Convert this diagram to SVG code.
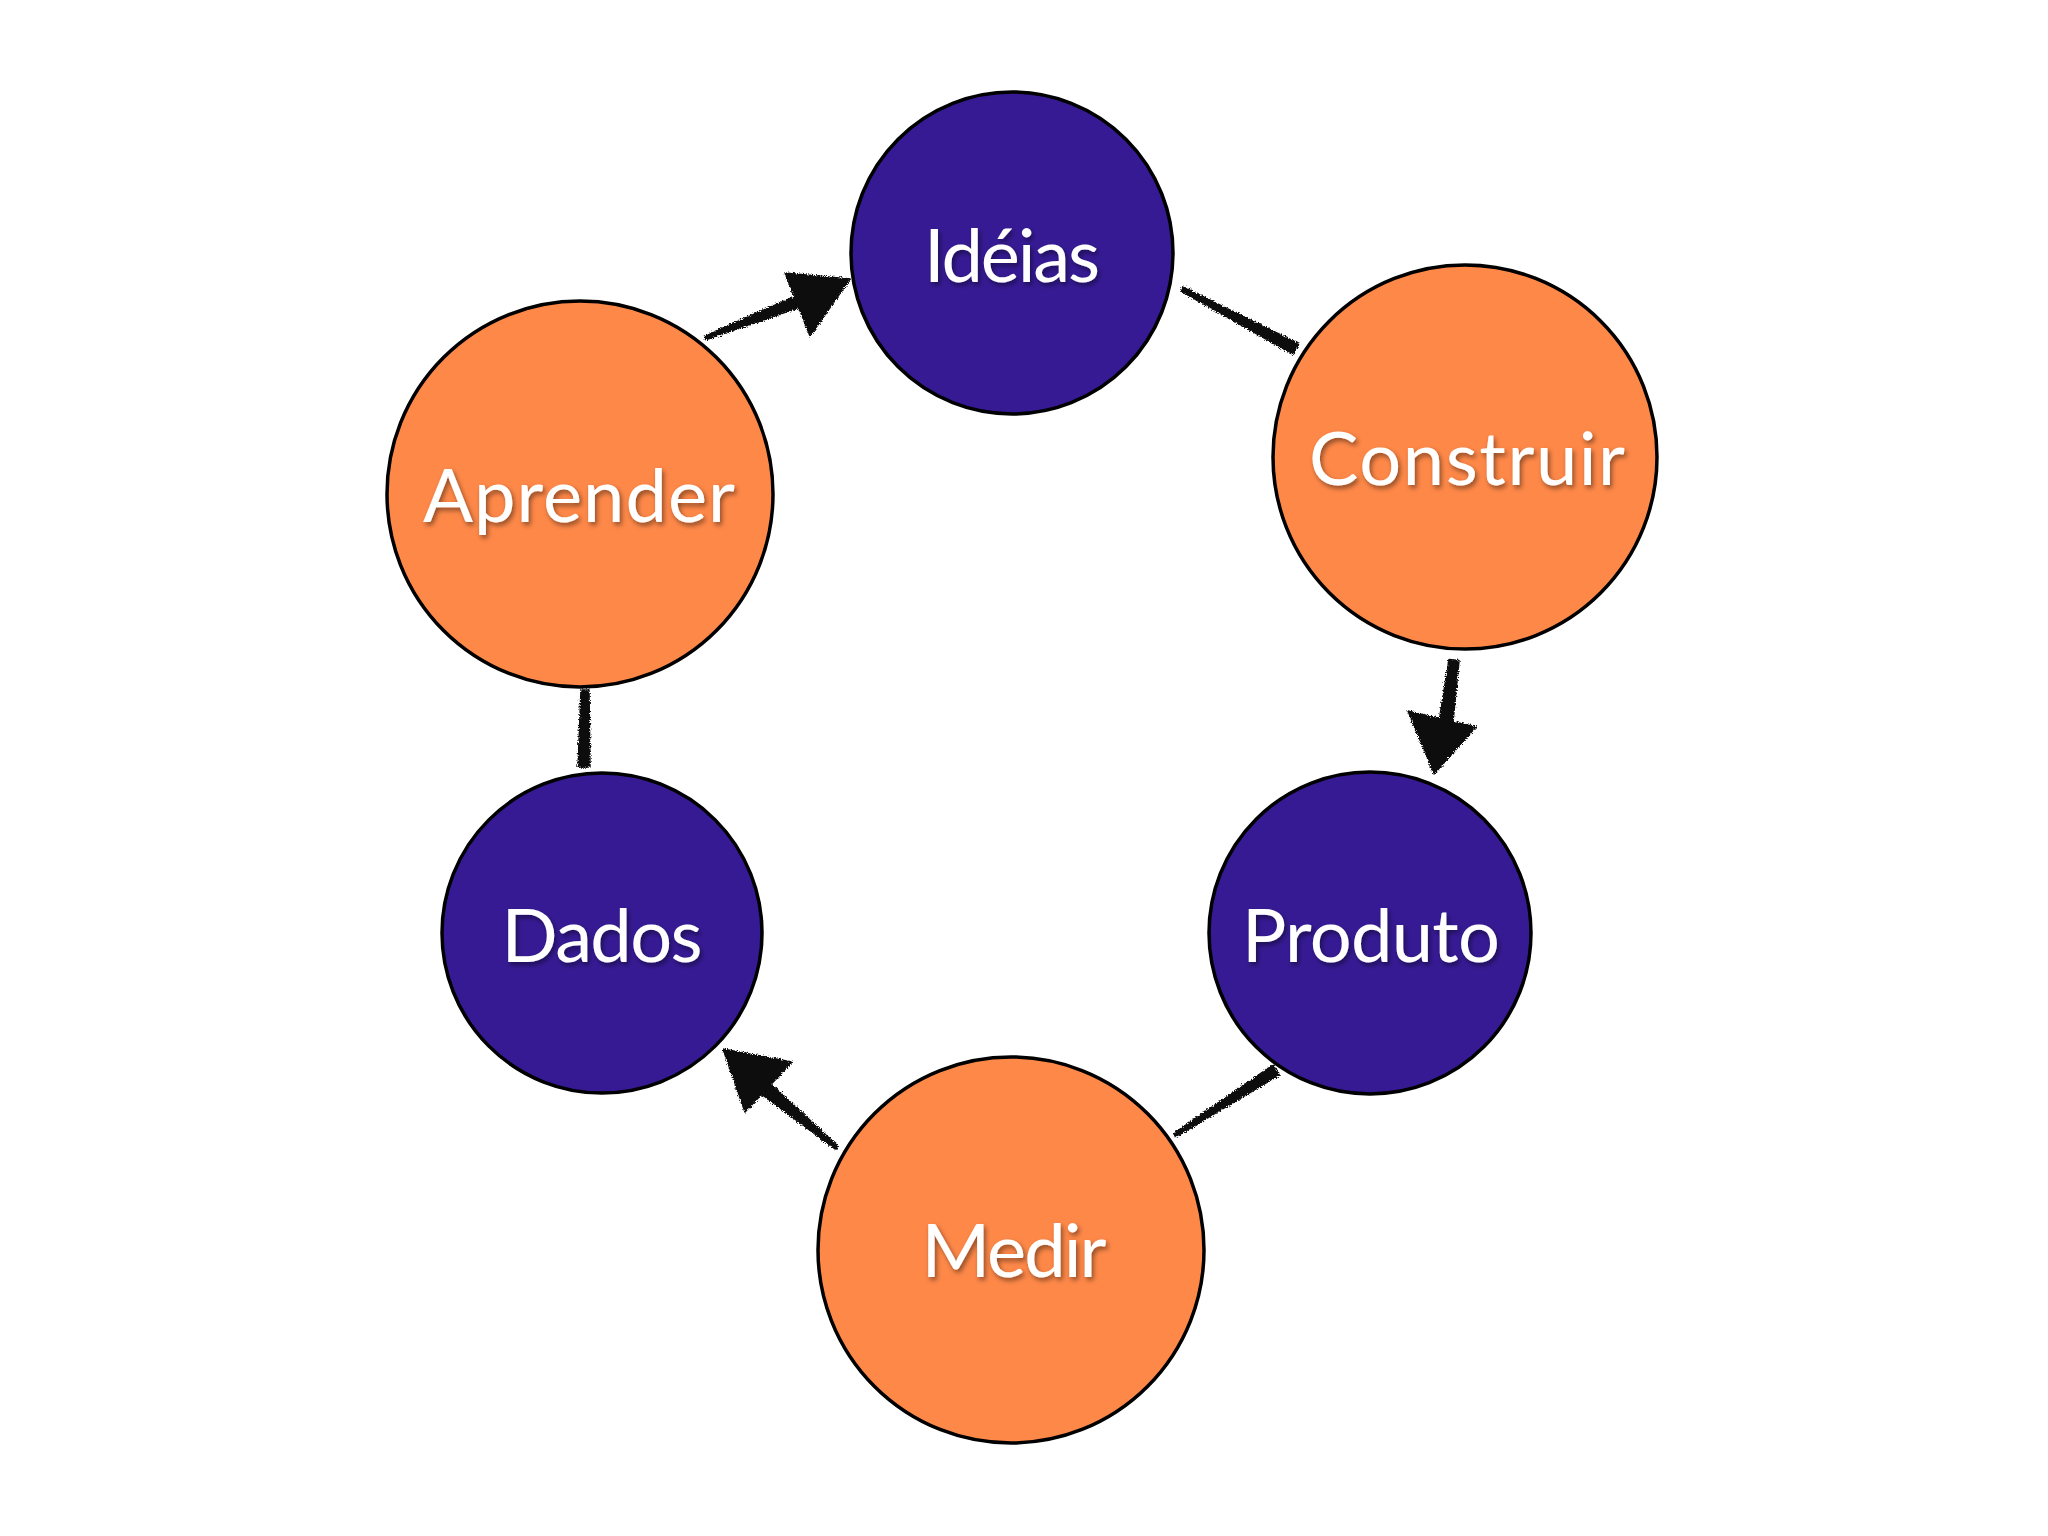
<svg xmlns="http://www.w3.org/2000/svg" width="2048" height="1536" viewBox="0 0 2048 1536">
  <style>
    .purple { fill: #361A94; stroke: #000; stroke-width: 3.5; }
    .orange { fill: #FE8848; stroke: #000; stroke-width: 3.5; }
    .label { font-family: "Lato", "Open Sans", "Liberation Sans", sans-serif; font-size: 74px; fill: #FFFFFF; text-anchor: middle; filter: url(#shadow); }
    .ink { fill: #111; stroke: #111; stroke-width: 1.5; stroke-linejoin: round; filter: url(#rough); }
  </style>
  <defs>
    <filter id="shadow" x="-20%" y="-40%" width="140%" height="180%">
      <feDropShadow dx="2" dy="3" stdDeviation="2.5" flood-color="#000" flood-opacity="0.45"/>
    </filter>
    <filter id="rough" x="-20%" y="-20%" width="140%" height="140%">
      <feTurbulence type="fractalNoise" baseFrequency="0.8" numOctaves="2" seed="3" result="noise"/>
      <feDisplacementMap in="SourceGraphic" in2="noise" scale="5" xChannelSelector="R" yChannelSelector="G"/>
    </filter>
  </defs>
  <rect width="2048" height="1536" fill="#FFFFFF"/>

  <g id="connectors">
    <!-- Aprender -> Idéias -->
    <polygon class="ink" points="704.3,336.1 794.8,296.4 799.2,307.6 705.7,339.9"/>
    <polygon class="ink" points="785,273 850,279 810,336"/>
    <!-- Idéias -> Construir -->
    <polygon class="ink" points="1183.2,286.8 1298.8,343.7 1293.2,354.3 1180.8,291.2"/>
    <!-- Construir -> Produto -->
    <polygon class="ink" points="1449,659.4 1459,660.6 1452.9,722.9 1439.1,721.1"/>
    <polygon class="ink" points="1408,711 1476,727 1434,774"/>
    <!-- Produto -> Medir -->
    <polygon class="ink" points="1272.8,1065 1279.2,1075 1176.1,1136.7 1173.9,1133.3"/>
    <!-- Medir -> Dados -->
    <polygon class="ink" points="838.3,1146.5 769.5,1082.6 760.5,1093.4 835.7,1149.5"/>
    <polygon class="ink" points="723,1049 792,1062 745,1112"/>
    <!-- Dados -> Aprender -->
    <polygon class="ink" points="581,690 589,690 590,767 578,767"/>
  </g>

  <g id="ideias">
    <circle class="purple" cx="1012" cy="253" r="161"/>
    <text class="label" x="1012" y="282" textLength="176">Idéias</text>
  </g>
  <g id="construir">
    <circle class="orange" cx="1465" cy="457" r="192"/>
    <text class="label" x="1467" y="485" textLength="316">Construir</text>
  </g>
  <g id="produto">
    <circle class="purple" cx="1370" cy="933" r="161"/>
    <text class="label" x="1371" y="962" textLength="258">Produto</text>
  </g>
  <g id="medir">
    <circle class="orange" cx="1011" cy="1250" r="193"/>
    <text class="label" x="1014" y="1277" textLength="185">Medir</text>
  </g>
  <g id="dados">
    <circle class="purple" cx="602" cy="933" r="160"/>
    <text class="label" x="602" y="962" textLength="201">Dados</text>
  </g>
  <g id="aprender">
    <circle class="orange" cx="580" cy="494" r="193"/>
    <text class="label" x="579" y="522" textLength="312">Aprender</text>
  </g>
</svg>
